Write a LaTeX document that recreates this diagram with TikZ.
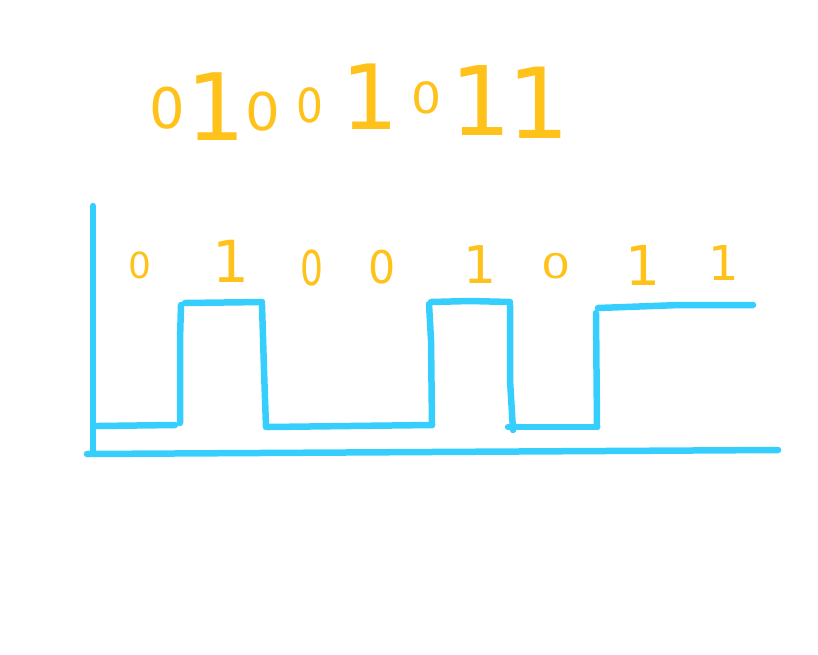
\documentclass[tikz,border=0pt]{standalone}
\usepackage{fontspec}
\usepackage{graphicx}
\newfontfamily\djvfont{DejaVu Sans}
\definecolor{ink}{HTML}{FFC21A}
\definecolor{wire}{HTML}{36CFFD}
\newcommand{\dsz}[2]{{\djvfont\fontsize{#1}{#1}\selectfont #2}}
\newcommand{\dzero}[2]{\scalebox{#2}[1]{\dsz{#1}{0}}}
\begin{document}
\begin{tikzpicture}[x=1pt,y=-1pt,
  dg/.style={inner sep=0pt, outer sep=0pt, anchor=base, text=ink},
  wirestroke/.style={draw=wire, line width=6.5pt, line cap=round, line join=round}]
\useasboundingbox (0,0) rectangle (818,654);
% top binary string
\node[dg] (t1) at (167,128) {\dzero{56}{1.0}};
\node[dg] (t2) at (216,140) {\dsz{93}{1}};
\node[dg] (t3) at (263,130) {\dzero{52}{1.05}};
\node[dg] (t4) at (310,122) {\dzero{47}{0.9}};
\node[dg] (t5) at (370,129) {\dsz{90}{1}};
\node[dg] (t6) at (427,113) {\dzero{43}{1.1}};
\node[dg] (t7) at (481,135) {\dsz{96}{1}};
\node[dg] (t8) at (539,138) {\dsz{98}{1}};
% bit labels
\node[dg] (b1) at (140,278) {\dzero{36}{1.0}};
\node[dg] (b2) at (231,282) {\dsz{58}{1}};
\node[dg] (b3) at (312,285) {\dzero{48}{0.75}};
\node[dg] (b4) at (382,283) {\dzero{45}{0.95}};
\node[dg] (b5) at (480,283) {\dsz{52}{1}};
\node[dg] (b6) at (556,278) {\dzero{34}{1.35}};
\node[dg] (b7) at (643,285) {\dsz{55}{1}};
\node[dg] (b8) at (724,280) {\dsz{48}{1}};
% axes
\draw[wirestroke] (93,206) -- (93,453);
\draw[wirestroke] (87,454) -- (430,452) -- (778,450);
% signal
\draw[wirestroke] (97,426) -- (175,425);
\draw[wirestroke] (180,423) -- (180,340) -- (181,305);
\draw[wirestroke] (185,303) -- (262,302);
\draw[wirestroke] (262,305) -- (264,370) -- (266,427);
\draw[wirestroke] (268,427) -- (350,426) -- (432,425);
\draw[wirestroke] (432,425) -- (431,340) -- (429,304);
\draw[wirestroke] (431,302) -- (470,301) -- (510,302);
\draw[wirestroke] (510,305) -- (510,380) -- (513,430);
\draw[wirestroke] (508,427) -- (597,427);
\draw[wirestroke] (597,427) -- (596,313);
\draw[wirestroke] (598,308) -- (680,305) -- (753,305);
\end{tikzpicture}
\end{document}
